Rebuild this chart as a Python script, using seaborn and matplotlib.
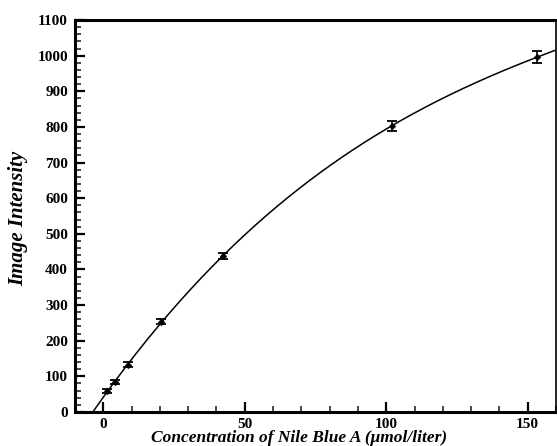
import numpy as np
import matplotlib
matplotlib.use('Agg')
import matplotlib.pyplot as plt
import seaborn as sns
from matplotlib.ticker import MultipleLocator

# values
concentration = [1.3, 4.2, 8.6, 20.5, 42.3, 101.9, 153.4]
intensity = [59, 84, 132, 253, 438, 803, 996]
intensity_err = [6, 6, 7, 7, 9, 14, 18]

x_ticks = [0, 50, 100, 150]
y_ticks = list(range(0, 1101, 100))

sns.set_theme(style='ticks')
plt.rcParams['font.family'] = ['Liberation Serif', 'DejaVu Serif']
plt.rcParams['text.color'] = 'black'
plt.rcParams['axes.labelcolor'] = 'black'

fig = plt.figure(figsize=(5.57, 4.46), dpi=100)
ax = fig.add_axes([75 / 557, 34 / 446, 481 / 557, 392 / 446])

# fitted calibration curve (cubic least squares on the points)
coef = np.polyfit(concentration, intensity, 3)
roots = np.roots(coef)
neg = [r.real for r in roots if -15 < r.real < 0 and abs(r.imag) < 1e-9]
x_start = max(neg) if neg else -10
xs = np.linspace(x_start, 160, 300)
sns.lineplot(x=xs, y=np.polyval(coef, xs), color='black', lw=1.1, ax=ax)

ax.errorbar(concentration, intensity, yerr=intensity_err, fmt='none',
            ecolor='black', elinewidth=1.2, capsize=3.4, capthick=1.3)
sns.scatterplot(x=concentration, y=intensity, color='black', s=12,
                marker='D', edgecolor='black', ax=ax)

ax.set_xlim(-10, 160)
ax.set_ylim(0, 1100)
ax.set_xticks(x_ticks)
ax.set_yticks(y_ticks)
ax.xaxis.set_minor_locator(MultipleLocator(10))
ax.yaxis.set_minor_locator(MultipleLocator(20))
ax.tick_params(axis='both', which='major', direction='in', length=7, width=1.6,
               labelsize=11, colors='black')
ax.tick_params(axis='x', which='major', pad=4)
ax.tick_params(axis='y', which='major', pad=5)
ax.tick_params(axis='both', which='minor', direction='in', length=4, width=1.2)
for lab in ax.get_xticklabels() + ax.get_yticklabels():
    lab.set_fontweight('bold')

for side in ['left', 'bottom', 'top']:
    ax.spines[side].set_linewidth(2.2)
ax.spines['right'].set_linewidth(1.2)
for sp in ax.spines.values():
    sp.set_color('black')

ax.set_xlabel('Concentration of Nile Blue A (\u03bcmol/liter)', fontsize=12.5,
              fontweight='bold', fontstyle='italic', va='center')
ax.xaxis.set_label_coords(0.465, -0.066)
ax.set_ylabel('Image Intensity', fontsize=15, fontweight='bold',
              fontstyle='italic', va='center')
ax.yaxis.set_label_coords(-0.118, 0.495)

fig.savefig('out.png', dpi=100, facecolor='white')
